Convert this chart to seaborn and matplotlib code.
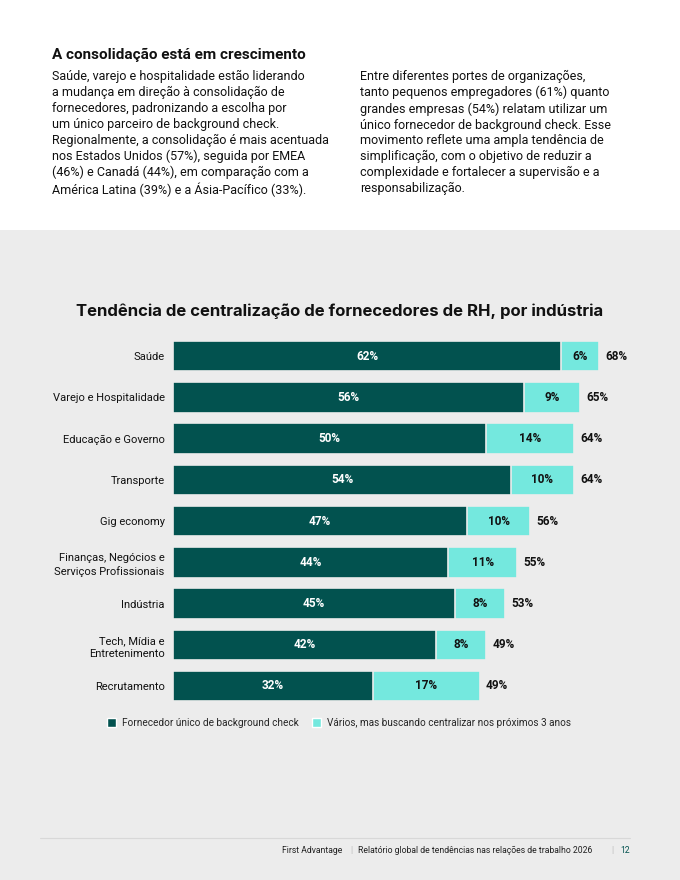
import seaborn as sns
import matplotlib.pyplot as plt
import pandas as pd
from matplotlib.patches import Rectangle, Patch

sns.set_theme(style="white")
plt.rcParams['font.family'] = ['Roboto', 'DejaVu Sans']

# dados
industrias = ['Saúde', 'Varejo e Hospitalidade', 'Educação e Governo', 'Transporte',
              'Gig economy', 'Finanças, Negócios e\nServiços Profissionais', 'Indústria',
              'Tech, Mídia e\nEntretenimento', 'Recrutamento']
unico = [62, 56, 50, 54, 47, 44, 45, 42, 32]
varios = [6, 9, 14, 10, 10, 11, 8, 8, 17]
total = [68, 65, 64, 64, 56, 55, 53, 49, 49]

DARK = '#02524f'
LIGHT = '#74e8de'
BG = '#ececec'

df = pd.DataFrame({'industria': industrias, 'unico': unico, 'varios': varios})
df['soma'] = df['unico'] + df['varios']

fig = plt.figure(figsize=(6.8, 8.8), dpi=100)
fig.patch.set_facecolor('white')
fig.patches.append(Rectangle((0, 0), 1, 1 - 230 / 880, transform=fig.transFigure,
                             facecolor=BG, edgecolor='none', zorder=-5))

# texto do topo
fig.text(52 / 680, 1 - 55 / 880, 'A consolidação está em crescimento', fontsize=11,
         fontweight='bold', va='center', color='#111111')
txt1 = ('Saúde, varejo e hospitalidade estão liderando\n'
        'a mudança em direção à consolidação de\n'
        'fornecedores, padronizando a escolha por\n'
        'um único parceiro de background check.\n'
        'Regionalmente, a consolidação é mais acentuada\n'
        'nos Estados Unidos (57%), seguida por EMEA\n'
        '(46%) e Canadá (44%), em comparação com a\n'
        'América Latina (39%) e a Ásia-Pacífico (33%).')
txt2 = ('Entre diferentes portes de organizações,\n'
        'tanto pequenos empregadores (61%) quanto\n'
        'grandes empresas (54%) relatam utilizar um\n'
        'único fornecedor de background check. Esse\n'
        'movimento reflete uma ampla tendência de\n'
        'simplificação, com o objetivo de reduzir a\n'
        'complexidade e fortalecer a supervisão e a\n'
        'responsabilização.')
fig.text(52 / 680, 1 - 70 / 880, txt1, fontsize=9, va='top', linespacing=1.28, color='#111111')
fig.text(360 / 680, 1 - 70 / 880, txt2, fontsize=9, va='top', linespacing=1.28, color='#111111')

# gráfico
ax = fig.add_axes([173 / 680, 1 - 706.6 / 880, 469.5 / 680, 371 / 880])
ax.set_facecolor('none')
sns.barplot(data=df, x='soma', y='industria', color=LIGHT, width=0.74, ax=ax,
            edgecolor=BG, linewidth=1.2, saturation=1)
sns.barplot(data=df, x='unico', y='industria', color=DARK, width=0.74, ax=ax,
            edgecolor=BG, linewidth=1.2, saturation=1)
ax.set_xlim(0, 75)
ax.set_xlabel('')
ax.set_ylabel('')
ax.set_xticks([])
sns.despine(ax=ax, left=True, bottom=True)
ax.tick_params(axis='y', length=0, pad=6, labelsize=8, labelcolor='#111111')
for lbl in ax.get_yticklabels():
    lbl.set_linespacing(1.35)

for i, (u, v, t) in enumerate(zip(unico, varios, total)):
    ax.text(u / 2, i, f'{u}%', ha='center', va='center', color='white',
            fontsize=8.5, fontweight='bold')
    ax.text(u + v / 2, i, f'{v}%', ha='center', va='center', color='#111111',
            fontsize=8.5, fontweight='bold')
    ax.text(u + v + 1, i, f'{t}%', ha='left', va='center', color='#111111',
            fontsize=8.5, fontweight='bold')

fig.text(340 / 680, 1 - 311 / 880,
         'Tendência de centralização de fornecedores de RH, por indústria',
         ha='center', va='center', fontsize=12, fontweight='bold', color='#111111',
         family=['Inter', 'DejaVu Sans'])

handles = [Patch(facecolor=DARK, label='Fornecedor único de background check'),
           Patch(facecolor=LIGHT, label='Vários, mas buscando centralizar nos próximos 3 anos')]
fig.legend(handles=handles, loc='center', bbox_to_anchor=(339 / 680, 1 - 723 / 880), ncol=2,
           frameon=False, fontsize=7.2, handlelength=0.9, handleheight=0.9,
           handletextpad=0.6, columnspacing=1.4)

# rodapé
fig.add_artist(plt.Line2D([40 / 680, 630 / 680], [1 - 838 / 880] * 2,
                          color='#d8d8d8', linewidth=0.8))
fy = 1 - 850 / 880
fig.text(342 / 680, fy, 'First Advantage', ha='right', va='center', fontsize=6.2, color='#222222')
fig.text(351 / 680, fy, '|', ha='center', va='center', fontsize=6.2, color='#bbbbbb')
fig.text(358 / 680, fy, 'Relatório global de tendências nas relações de trabalho 2026',
         ha='left', va='center', fontsize=6.2, color='#222222')
fig.text(612 / 680, fy, '|', ha='center', va='center', fontsize=6.2, color='#bbbbbb')
fig.text(620 / 680, fy, '12', ha='left', va='center', fontsize=6.2, color='#02524f')

plt.savefig('out.png', dpi=100)
